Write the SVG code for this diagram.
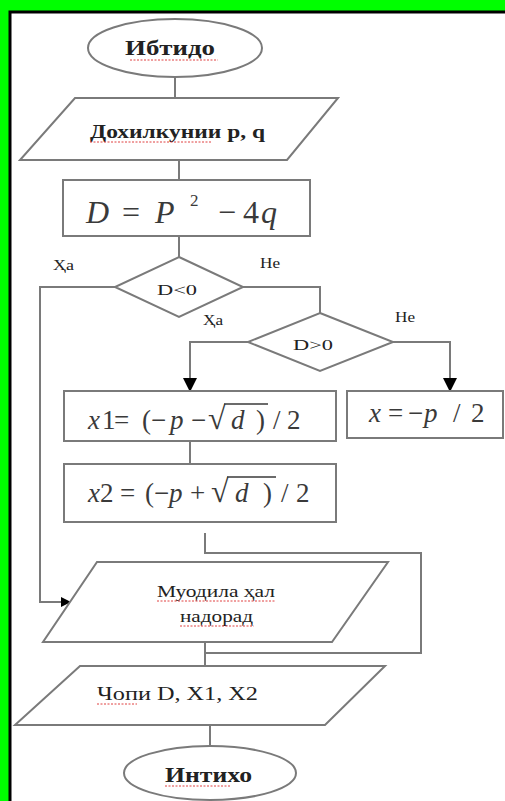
<svg xmlns="http://www.w3.org/2000/svg" width="505" height="801" viewBox="0 0 505 801">
<style>
.s{fill:#fff;stroke:#7a7a7a;stroke-width:2}
.c{fill:none;stroke:#7a7a7a;stroke-width:2}
text{font-family:'Liberation Serif','Times New Roman',serif}
.t{fill:#222}
.b{font-weight:bold}
.m{fill:#3a3a3a}
.i{font-style:italic}
.r{font-size:32px}
.w{fill:none;stroke:#e04040;stroke-width:1;stroke-dasharray:2 1.5}
</style>
<defs>
<marker id="ah" markerWidth="10" markerHeight="10" refX="9" refY="5" orient="auto" markerUnits="userSpaceOnUse">
<path d="M0,0 L10,5 L0,10 Z" fill="#000"/>
</marker>
<marker id="ahb" markerWidth="14" markerHeight="14" refX="13" refY="7" orient="auto" markerUnits="userSpaceOnUse">
<path d="M0,0 L14,7 L0,14 Z" fill="#000"/>
</marker>
</defs>
<rect x="0" y="0" width="505" height="801" fill="#fff"/>
<rect x="0" y="0" width="505" height="11" fill="#00ff00"/>
<rect x="0" y="0" width="9" height="801" fill="#00ff00"/>
<path d="M10,801 V12 H505" fill="none" stroke="#000" stroke-width="3"/>

<g id="connectors">
<path class="c" d="M175,77 V98"/>
<path class="c" d="M179,160 V180"/>
<path class="c" d="M179,236 V257"/>
<path class="c" d="M115,287 H40 V602 H70" marker-end="url(#ah)"/>
<path class="c" d="M243,287 H320 V313"/>
<path class="c" d="M248,342 H190 V391" marker-end="url(#ahb)"/>
<path class="c" d="M393,342 H450 V391" marker-end="url(#ahb)"/>
<path class="c" d="M190,441 V464"/>
<path class="c" d="M205,533 V553 H421 V653 H205"/>
<path class="c" d="M205,642 V666"/>
<path class="c" d="M210,725 V746"/>
<text class="t" x="53" y="270" font-size="14" textLength="21" lengthAdjust="spacingAndGlyphs">Ҳа</text>
<text class="t" x="260" y="268" font-size="14" textLength="20" lengthAdjust="spacingAndGlyphs">Не</text>
<text class="t" x="203" y="325" font-size="14" textLength="20" lengthAdjust="spacingAndGlyphs">Ҳа</text>
<text class="t" x="395" y="322" font-size="14" textLength="20" lengthAdjust="spacingAndGlyphs">Не</text>
</g>

<g id="start">
<ellipse class="s" cx="175" cy="48" rx="87" ry="29"/>
<text class="t b" x="125" y="55" font-size="20" textLength="90" lengthAdjust="spacingAndGlyphs">Ибтидо</text>
<path class="w" d="M130,60 H218"/>
</g>

<g id="input">
<polygon class="s" points="75,98 338,98 287,160 20,160"/>
<text class="t b" x="90" y="138" font-size="18" textLength="175" lengthAdjust="spacingAndGlyphs">Дохилкунии p, q</text>
<path class="w" d="M90,142 H212"/>
</g>

<g id="discriminant">
<rect class="s" x="63" y="180" width="247" height="56"/>
<text class="m i" x="86" y="223" font-size="32">D</text>
<text class="m" x="122" y="223" font-size="32">=</text>
<text class="m i" x="155" y="223" font-size="32">P</text>
<text class="m" x="190" y="206" font-size="17">2</text>
<text class="m" x="218" y="223" font-size="32">−</text>
<text class="m" x="243" y="223" font-size="32">4</text>
<text class="m i" x="261" y="223" font-size="32">q</text>
</g>

<g id="dec1">
<polygon class="s" points="179,257 243,287 179,317 115,287"/>
<text class="t" x="157" y="295" font-size="15" textLength="40" lengthAdjust="spacingAndGlyphs">D&lt;0</text>
</g>

<g id="dec2">
<polygon class="s" points="320,313 393,342 320,371 248,342"/>
<text class="t" x="293" y="350" font-size="15" textLength="40" lengthAdjust="spacingAndGlyphs">D&gt;0</text>
</g>

<g id="x1">
<rect class="s" x="64" y="391" width="272" height="50"/>
<text class="m" y="429" font-size="27"><tspan class="i" x="88">x</tspan><tspan x="102">1</tspan><tspan x="114">=</tspan><tspan x="142">(</tspan><tspan x="151">−</tspan><tspan class="i" x="170">p</tspan><tspan x="191">−</tspan><tspan class="r" x="208">√</tspan><tspan class="i" x="231">d</tspan><tspan x="256">)</tspan><tspan x="273">/</tspan><tspan x="287">2</tspan></text>
<path d="M224,404 H268" stroke="#3a3a3a" stroke-width="1.3"/>
</g>

<g id="x2">
<rect class="s" x="64" y="464" width="272" height="58"/>
<text class="m" y="502" font-size="27"><tspan class="i" x="88">x</tspan><tspan x="100">2</tspan><tspan x="120">=</tspan><tspan x="145">(</tspan><tspan x="154">−</tspan><tspan class="i" x="169">p</tspan><tspan x="190">+</tspan><tspan class="r" x="211">√</tspan><tspan class="i" x="235">d</tspan><tspan x="263">)</tspan><tspan x="281">/</tspan><tspan x="296">2</tspan></text>
<path d="M227,477 H276" stroke="#3a3a3a" stroke-width="1.3"/>
</g>

<g id="x">
<rect class="s" x="347" y="391" width="156" height="47"/>
<text class="m" y="422" font-size="27"><tspan class="i" x="369">x</tspan><tspan x="388">=</tspan><tspan x="408">−</tspan><tspan class="i" x="424">p</tspan><tspan x="453">/</tspan><tspan x="471">2</tspan></text>
</g>

<g id="nosolution">
<polygon class="s" points="97,562 388,562 332,642 43,642"/>
<text class="t" x="157" y="597" font-size="16" textLength="118" lengthAdjust="spacingAndGlyphs">Муодила ҳал</text>
<text class="t" x="180" y="622" font-size="16" textLength="73" lengthAdjust="spacingAndGlyphs">надорад</text>
<path class="w" d="M157,601 H276 M180,626 H254"/>
</g>

<g id="output">
<polygon class="s" points="80,666 385,666 325,725 15,725"/>
<text class="t" x="97" y="700" font-size="18" textLength="161" lengthAdjust="spacingAndGlyphs">Чопи D, X1, X2</text>
<path class="w" d="M97,704 H137"/>
</g>

<g id="end">
<ellipse class="s" cx="210" cy="773" rx="86" ry="27"/>
<text class="t b" x="165" y="782" font-size="20" textLength="87" lengthAdjust="spacingAndGlyphs">Интихо</text>
<path class="w" d="M165,786 H230"/>
</g>
</svg>
